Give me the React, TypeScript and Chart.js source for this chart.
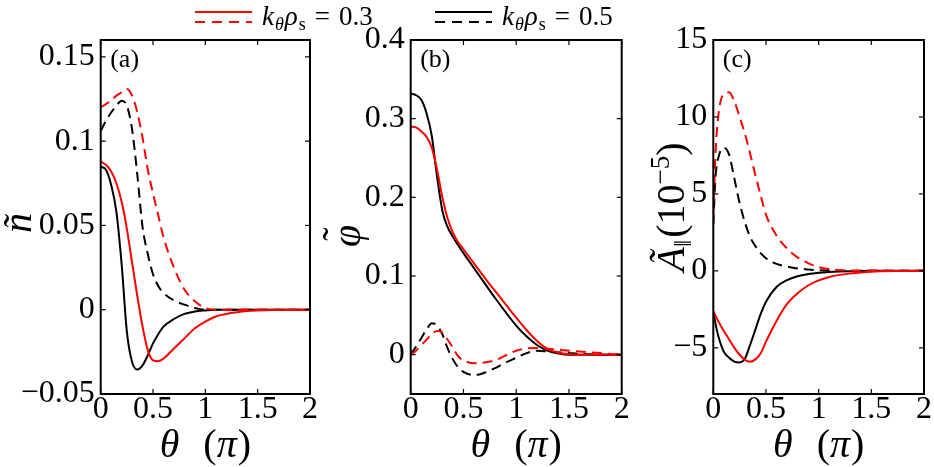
import React, { useEffect, useRef } from "react";
import { Chart, registerables } from "chart.js";

Chart.register(...registerables);

const W = 934;
const H = 467;
const FONT = '"Liberation Serif", "DejaVu Serif", serif';

// ---------- data: panel (a) n~ ----------
const thetaA = [0, 0.05, 0.1, 0.15, 0.2, 0.25, 0.3, 0.35, 0.4, 0.45, 0.5, 0.55, 0.6, 0.7, 0.8, 0.9, 1.0, 1.1, 1.2, 1.3, 1.4, 1.5, 1.75, 2.0];
const nRedSolid = [0.0878, 0.086, 0.082, 0.075, 0.064, 0.048, 0.028, 0.008, -0.010, -0.024, -0.030, -0.0305, -0.029, -0.023, -0.017, -0.011, -0.007, -0.004, -0.0025, -0.0015, -0.0008, -0.0004, 0, 0];
const nRedDashed = [0.120, 0.122, 0.124, 0.127, 0.129, 0.131, 0.127, 0.117, 0.102, 0.083, 0.069, 0.056, 0.043, 0.025, 0.012, 0.005, 0.001, 0, 0, 0, 0, 0, 0, 0];
const nBlackSolid = [0.0849, 0.083, 0.074, 0.058, 0.027, -0.013, -0.031, -0.0355, -0.033, -0.027, -0.020, -0.0145, -0.010, -0.0055, -0.0025, -0.001, -0.0004, 0, 0, 0, 0, 0, 0, 0];
const nBlackDashed = [0.106, 0.112, 0.117, 0.121, 0.124, 0.121, 0.107, 0.080, 0.049, 0.033, 0.021, 0.014, 0.010, 0.0055, 0.003, 0.001, 0, 0, 0, 0, 0, 0, 0, 0];

// ---------- data: panel (b) phi~ ----------
const thetaB = [0, 0.05, 0.1, 0.15, 0.2, 0.25, 0.3, 0.35, 0.4, 0.45, 0.5, 0.6, 0.7, 0.8, 0.9, 1.0, 1.1, 1.2, 1.3, 1.4, 1.5, 1.6, 1.7, 1.8, 1.9, 2.0];
const phiRedSolid = [0.290, 0.289, 0.284, 0.277, 0.263, 0.235, 0.200, 0.173, 0.155, 0.143, 0.134, 0.116, 0.098, 0.081, 0.064, 0.047, 0.031, 0.017, 0.007, 0.0025, 0.0005, 0, 0, 0, 0, 0];
const phiRedDashed = [0, 0.005, 0.012, 0.019, 0.026, 0.030, 0.028, 0.019, 0.009, -0.002, -0.007, -0.011, -0.010, -0.007, -0.001, 0.005, 0.008, 0.0085, 0.0075, 0.0065, 0.005, 0.004, 0.003, 0.002, 0.001, 0];
const phiBlackSolid = [0.332, 0.330, 0.324, 0.307, 0.278, 0.226, 0.183, 0.162, 0.150, 0.139, 0.129, 0.110, 0.091, 0.072, 0.054, 0.037, 0.023, 0.012, 0.005, 0.0015, 0, 0, 0, 0, 0, 0];
const phiBlackDashed = [0, 0.010, 0.021, 0.032, 0.040, 0.037, 0.026, 0.008, -0.006, -0.016, -0.022, -0.026, -0.023, -0.017, -0.010, -0.004, 0.002, 0.005, 0.004, 0.003, 0.002, 0.001, 0.0005, 0, 0, 0];

// ---------- data: panel (c) A_par~ (1e-5) ----------
const thetaC = [0, 0.02, 0.05, 0.1, 0.15, 0.2, 0.25, 0.3, 0.35, 0.4, 0.45, 0.5, 0.6, 0.7, 0.8, 0.9, 1.0, 1.1, 1.2, 1.3, 1.4, 1.5, 1.75, 2.0];
const aRedSolid = [-2.6, -2.9, -3.3, -3.9, -4.45, -5.0, -5.45, -5.78, -5.9, -5.75, -5.35, -4.6, -3.25, -2.15, -1.45, -0.95, -0.62, -0.4, -0.26, -0.17, -0.1, -0.05, -0.01, 0];
const aRedDashed = [3.5, 7.5, 10.2, 11.5, 11.6, 11.0, 10.0, 8.9, 7.6, 6.2, 4.9, 3.65, 2.3, 1.45, 0.88, 0.5, 0.25, 0.12, 0.05, 0.02, 0, 0, 0, 0];
const aBlackSolid = [-2.6, -3.4, -4.3, -5.25, -5.65, -5.9, -5.95, -5.7, -4.8, -3.8, -2.8, -2.0, -1.05, -0.6, -0.35, -0.21, -0.12, -0.07, -0.04, -0.02, -0.01, 0, 0, 0];
const aBlackDashed = [3.0, 6.0, 7.4, 8.0, 7.55, 6.0, 4.4, 3.15, 2.2, 1.6, 1.15, 0.82, 0.45, 0.28, 0.16, 0.09, 0.04, 0.02, 0, 0, 0, 0, 0, 0];

// ---------- ticks ----------
const xTicks = [0, 0.5, 1, 1.5, 2];
const xTickLabels = ["0", "0.5", "1", "1.5", "2"];
const yTicksA = [-0.05, 0, 0.05, 0.1, 0.15];
const yTickLabelsA = ["\u22120.05", "0", "0.05", "0.1", "0.15"];
const yTicksB = [0, 0.1, 0.2, 0.3, 0.4];
const yTickLabelsB = ["0", "0.1", "0.2", "0.3", "0.4"];
const yTicksC = [-5, 0, 5, 10, 15];
const yTickLabelsC = ["\u22125", "0", "5", "10", "15"];
const legendValues = ["0.3", "0.5"];

const RED = "#ff0000";
const BLACK = "#000000";

type Piece = { t: string; size: number; it?: boolean; dy?: number; gap?: number };

function fontOf(p: Piece) {
  return `${p.it ? "italic " : ""}${p.size}px ${FONT}`;
}

function piecesWidth(ctx: CanvasRenderingContext2D, ps: Piece[]) {
  let w = 0;
  for (const p of ps) {
    ctx.font = fontOf(p);
    w += ctx.measureText(p.t).width + (p.gap || 0);
  }
  return w;
}

function drawPieces(ctx: CanvasRenderingContext2D, ps: Piece[], x: number, y: number, align: "left" | "center") {
  const total = piecesWidth(ctx, ps);
  let cx = align === "center" ? x - total / 2 : x;
  ctx.textAlign = "left";
  ctx.textBaseline = "alphabetic";
  for (const p of ps) {
    ctx.font = fontOf(p);
    ctx.fillText(p.t, cx, y + (p.dy || 0));
    cx += ctx.measureText(p.t).width + (p.gap || 0);
  }
}

function drawRotated(ctx: CanvasRenderingContext2D, cx: number, cy: number, fn: () => void) {
  ctx.save();
  ctx.translate(cx, cy);
  ctx.rotate(-Math.PI / 2);
  fn();
  ctx.restore();
}

const xTitle: Piece[] = [
  { t: "\u03B8", size: 40, it: true, gap: 24 },
  { t: "(", size: 40 },
  { t: "\u03C0", size: 40, it: true, gap: 1 },
  { t: ")", size: 40 },
];

function drawLegend(ctx: CanvasRenderingContext2D) {
  const items = [
    { color: RED, x0: 195, x1: 252, tx: 262, val: legendValues[0] },
    { color: BLACK, x0: 435, x1: 492, tx: 502, val: legendValues[1] },
  ];
  for (const it of items) {
    ctx.strokeStyle = it.color;
    ctx.lineWidth = 2;
    ctx.setLineDash([]);
    ctx.beginPath();
    ctx.moveTo(it.x0, 12);
    ctx.lineTo(it.x1, 12);
    ctx.stroke();
    ctx.setLineDash([10, 7]);
    ctx.beginPath();
    ctx.moveTo(it.x0, 22);
    ctx.lineTo(it.x1, 22);
    ctx.stroke();
    ctx.setLineDash([]);
    ctx.fillStyle = "#000";
    drawPieces(
      ctx,
      [
        { t: "k", size: 27, it: true, gap: 1 },
        { t: "\u03B8", size: 18, it: true, dy: 5, gap: 1 },
        { t: "\u03C1", size: 27, it: true, gap: 1 },
        { t: "s", size: 18, dy: 5, gap: 9 },
        { t: "=", size: 27, gap: 9 },
        { t: it.val, size: 27 },
      ],
      it.tx,
      25,
      "left"
    );
  }
}

type Series = { x: number[]; y: number[]; color: string; dash: boolean };
type PanelCfg = {
  left: number;
  right: number;
  yMin: number;
  yMax: number;
  yTicks: number[];
  yTickLabels: string[];
  series: Series[];
  label: string;
  drawYTitle: (ctx: CanvasRenderingContext2D) => void;
  legend: boolean;
};

const panels: PanelCfg[] = [
  {
    left: 100.7,
    right: 310,
    yMin: -0.05,
    yMax: 0.16,
    yTicks: yTicksA,
    yTickLabels: yTickLabelsA,
    series: [
      { x: thetaA, y: nRedSolid, color: RED, dash: false },
      { x: thetaA, y: nRedDashed, color: RED, dash: true },
      { x: thetaA, y: nBlackSolid, color: BLACK, dash: false },
      { x: thetaA, y: nBlackDashed, color: BLACK, dash: true },
    ],
    label: "(a)",
    drawYTitle: (ctx) =>
      drawRotated(ctx, 31, 223, () => drawPieces(ctx, [{ t: "\u00F1", size: 40, it: true }], 0, 0, "center")),
    legend: true,
  },
  {
    left: 410.7,
    right: 621.7,
    yMin: -0.05,
    yMax: 0.4,
    yTicks: yTicksB,
    yTickLabels: yTickLabelsB,
    series: [
      { x: thetaB, y: phiRedSolid, color: RED, dash: false },
      { x: thetaB, y: phiRedDashed, color: RED, dash: true },
      { x: thetaB, y: phiBlackSolid, color: BLACK, dash: false },
      { x: thetaB, y: phiBlackDashed, color: BLACK, dash: true },
    ],
    label: "(b)",
    drawYTitle: (ctx) =>
      drawRotated(ctx, 360, 236, () => {
        drawPieces(ctx, [{ t: "\u03C6", size: 40, it: true }], 0, 0, "center");
        drawPieces(ctx, [{ t: "\u02DC", size: 40 }], 2, -10, "center");
      }),
    legend: false,
  },
  {
    left: 713.3,
    right: 924,
    yMin: -8,
    yMax: 15,
    yTicks: yTicksC,
    yTickLabels: yTickLabelsC,
    series: [
      { x: thetaC, y: aRedSolid, color: RED, dash: false },
      { x: thetaC, y: aRedDashed, color: RED, dash: true },
      { x: thetaC, y: aBlackSolid, color: BLACK, dash: false },
      { x: thetaC, y: aBlackDashed, color: BLACK, dash: true },
    ],
    label: "(c)",
    drawYTitle: (ctx) =>
      drawRotated(ctx, 684, 207, () =>
        drawPieces(
          ctx,
          [
            { t: "\u00C3", size: 40, it: true },
            { t: "\u2016", size: 26, dy: 7, gap: 2 },
            { t: "(10", size: 40 },
            { t: "\u22125", size: 27, dy: -15 },
            { t: ")", size: 40 },
          ],
          0,
          0,
          "center"
        )
      ),
    legend: false,
  },
];

function framePlugin(cfg: PanelCfg) {
  return {
    id: "frame" + cfg.label.replace(/[()]/g, ""),
    afterDraw(chart: any) {
      const { ctx, chartArea: a, scales } = chart;
      ctx.save();
      ctx.strokeStyle = "#000";
      ctx.lineWidth = 1.2;
      ctx.setLineDash([]);
      const seg = (x1: number, y1: number, x2: number, y2: number) => {
        ctx.beginPath();
        ctx.moveTo(x1, y1);
        ctx.lineTo(x2, y2);
        ctx.stroke();
      };
      for (const t of scales.x.ticks) {
        const px = scales.x.getPixelForValue(t.value);
        seg(px, a.bottom, px, a.bottom - 5);
        seg(px, a.top, px, a.top + 5);
      }
      for (const t of scales.y.ticks) {
        const py = scales.y.getPixelForValue(t.value);
        seg(a.left, py, a.left + 5, py);
        seg(a.right, py, a.right - 5, py);
      }
      ctx.lineWidth = 2;
      ctx.strokeRect(a.left, a.top, a.right - a.left, a.bottom - a.top);
      ctx.fillStyle = "#000";
      drawPieces(ctx, [{ t: cfg.label, size: 26 }], a.left + 9.5, 66.5, "left");
      drawPieces(ctx, xTitle, (a.left + a.right) / 2, 457, "center");
      cfg.drawYTitle(ctx);
      if (cfg.legend) drawLegend(ctx);
      ctx.restore();
    },
  };
}

function buildConfig(cfg: PanelCfg): any {
  const tickFont = { family: FONT, size: 32, lineHeight: 1 };
  return {
    type: "line",
    data: {
      datasets: cfg.series.map((s) => ({
        data: s.x.map((x, i) => ({ x, y: s.y[i] })),
        borderColor: s.color,
        backgroundColor: s.color,
        borderWidth: 2,
        borderDash: s.dash ? [10, 6] : [],
        pointRadius: 0,
        fill: false,
        cubicInterpolationMode: "monotone",
      })),
    },
    options: {
      responsive: false,
      maintainAspectRatio: false,
      animation: false,
      events: [],
      layout: { padding: { left: 0, top: 40, right: W - cfg.right, bottom: 0 } },
      plugins: { legend: { display: false }, tooltip: { enabled: false } },
      scales: {
        x: {
          type: "linear",
          min: 0,
          max: 2,
          afterBuildTicks: (s: any) => {
            s.ticks = xTicks.map((v) => ({ value: v }));
          },
          afterFit: (s: any) => {
            s.height = H - 394;
          },
          grid: { display: false, drawTicks: false },
          border: { display: false },
          ticks: {
            autoSkip: false,
            maxRotation: 0,
            padding: 0,
            color: "#000",
            font: tickFont,
            callback: (_v: any, i: number) => xTickLabels[i],
          },
        },
        y: {
          type: "linear",
          min: cfg.yMin,
          max: cfg.yMax,
          afterBuildTicks: (s: any) => {
            s.ticks = cfg.yTicks.map((v) => ({ value: v }));
          },
          afterFit: (s: any) => {
            s.width = cfg.left;
          },
          grid: { display: false, drawTicks: false },
          border: { display: false },
          ticks: {
            autoSkip: false,
            padding: 6,
            color: "#000",
            font: tickFont,
            callback: (_v: any, i: number) => cfg.yTickLabels[i],
          },
        },
      },
    },
    plugins: [framePlugin(cfg)],
  };
}

export default function App() {
  const r0 = useRef<HTMLCanvasElement>(null);
  const r1 = useRef<HTMLCanvasElement>(null);
  const r2 = useRef<HTMLCanvasElement>(null);
  const refs = [r0, r1, r2];

  useEffect(() => {
    const charts = panels.map((cfg, i) => new Chart(refs[i].current as HTMLCanvasElement, buildConfig(cfg)));
    return () => {
      charts.forEach((c) => c.destroy());
    };
  }, []);

  return (
    <div style={{ position: "fixed", left: 0, top: 0, width: W, height: H, background: "#fff" }}>
      {refs.map((r, i) => (
        <canvas
          key={i}
          ref={r}
          width={W}
          height={H}
          style={{ position: "absolute", left: 0, top: 0, width: W, height: H, pointerEvents: "none" }}
        />
      ))}
    </div>
  );
}
